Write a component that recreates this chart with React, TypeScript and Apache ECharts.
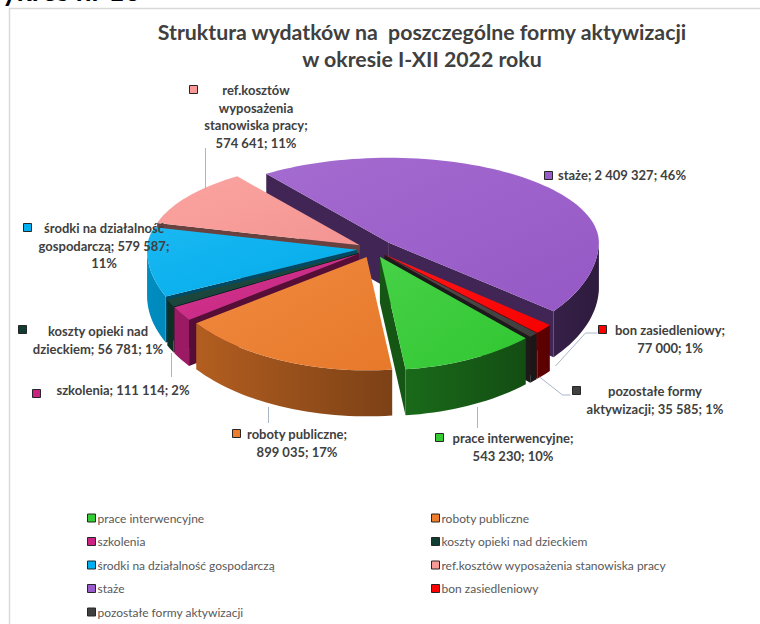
import React, { useEffect, useRef } from 'react';
import * as echarts from 'echarts';

// ---------- data ----------
const categories = [
  'prace interwencyjne',
  'roboty publiczne',
  'szkolenia',
  'koszty opieki nad dzieckiem',
  'środki na działalność gospodarczą',
  'ref.kosztów wyposażenia stanowiska pracy',
  'staże',
  'bon zasiedleniowy',
  'pozostałe formy aktywizacji',
];
const amounts = [543230, 899035, 111114, 56781, 579587, 574641, 2409327, 77000, 35585];
const titleLines = ['Struktura wydatków na  poszczególne formy aktywizacji', 'w okresie I-XII 2022 roku'];
const pageCaption = 'Wykres nr 10';
// words per label line
const labelWords = [[2, 2], [2, 2], [3], [3, 3], [3, 2, 1], [1, 1, 2, 2], [3], [2, 2], [2, 3]];

// ---------- style / layout ----------
const sliceColors = ['#33CC33', '#EE7D2B', '#CC2283', '#0F3D31', '#00B0F0', '#FA9A97', '#9A5BCB', '#FF0000', '#404040'];
const CX = 373, CY = 249, RX = 210, KF = 0.54, KB = 0.405, DEPTH = 46, START_ANGLE = 46;
const explode = [16, 16, 16, 16, 16, 16, 22, 16, 16];
const LABEL_FONT = 'Lato, "Open Sans", sans-serif';
const TEXT_COLOR = '#404040';
const labelLayout = [
  { cx: 513, y: 438, mx: 435, my: 437 },
  { cx: 297, y: 434, mx: 232, my: 433 },
  { cx: 123, y: 390, mx: 32, my: 393 },
  { cx: 98, y: 331, mx: 18, my: 329 },
  { cx: 104, y: 228, mx: 23, my: 227 },
  { cx: 256, y: 90, mx: 189, my: 89 },
  { cx: 622, y: 175, mx: 544, my: 175 },
  { cx: 670, y: 330, mx: 598, my: 329 },
  { cx: 655, y: 391, mx: 572, my: 390 },
];
const LINE_H = 17.5;
const leaderLines = [
  [[205, 148], [205, 190]],
  [[171, 353], [171, 377]],
  [[268, 407], [268, 423]],
  [[477, 407], [477, 428]],
  [[539, 377], [562, 395], [570, 395]],
  [[555, 366], [585, 333], [597, 333]],
];

const D2R = Math.PI / 180;

function shade(hex: string, f: number) {
  const n = parseInt(hex.slice(1), 16);
  const r = Math.round(((n >> 16) & 255) * f);
  const g = Math.round(((n >> 8) & 255) * f);
  const b = Math.round((n & 255) * f);
  return `rgb(${Math.min(255, r)},${Math.min(255, g)},${Math.min(255, b)})`;
}

function tint(hex: string, f: number) {
  const n = parseInt(hex.slice(1), 16);
  const mix = (c: number) => Math.round(c + (255 - c) * f);
  return `rgb(${mix((n >> 16) & 255)},${mix((n >> 8) & 255)},${mix(n & 255)})`;
}

function proj(u: number, v: number, h: number) {
  return [CX + u, CY + (v > 0 ? v * KF : v * KB) + h];
}

function fmtNum(n: number) {
  return String(n).replace(/\B(?=(\d{3})+(?!\d))/g, '\u00a0');
}

function buildSlices() {
  const total = amounts.reduce((a, b) => a + b, 0);
  let acc = START_ANGLE;
  return amounts.map((val, i) => {
    const a1 = acc;
    const a2 = acc + (val / total) * 360;
    acc = a2;
    const m = ((a1 + a2) / 2) * D2R;
    const ex = explode[i] * Math.cos(m);
    const ey = explode[i] * Math.sin(m);
    const rim = (deg: number, h: number) =>
      proj(ex + RX * Math.cos(deg * D2R), ey + RX * Math.sin(deg * D2R), h);
    const apex = (h: number) => proj(ex, ey, h);
    const arc = (s: number, t: number, h: number) => {
      const n = Math.max(2, Math.ceil(Math.abs(t - s) / 2));
      const pts: number[][] = [];
      for (let k = 0; k <= n; k++) pts.push(rim(s + ((t - s) * k) / n, h));
      return pts;
    };
    const c = sliceColors[i];
    const els: any[] = [];
    const vAt = (deg: number, frac: number) => ey + RX * frac * Math.sin(deg * D2R);
    // radial faces
    if (Math.cos(a1 * D2R) < 0) {
      els.push({
        type: 'polygon',
        shape: { points: [apex(0), rim(a1, 0), rim(a1, DEPTH), apex(DEPTH)] },
        style: { fill: shade(c, 0.42) },
        z2: 1000 + Math.round(vAt(a1, 0.5)),
      });
    }
    if (Math.cos(a2 * D2R) > 0) {
      els.push({
        type: 'polygon',
        shape: { points: [apex(0), rim(a2, 0), rim(a2, DEPTH), apex(DEPTH)] },
        style: { fill: shade(c, 0.42) },
        z2: 1000 + Math.round(vAt(a2, 0.5)),
      });
    }
    // outer wall (front half only)
    for (const [lo, hi] of [[0, 180], [360, 540]]) {
      const s = Math.max(a1, lo);
      const t = Math.min(a2, hi);
      if (t - s > 0.01) {
        const top = arc(s, t, 0);
        const bot = arc(t, s, DEPTH);
        const fL = 0.55 - 0.25 * Math.cos(t * D2R);
        const fR = 0.55 - 0.25 * Math.cos(s * D2R);
        els.push({
          type: 'polygon',
          shape: { points: top.concat(bot) },
          style: {
            fill: new echarts.graphic.LinearGradient(0, 0, 1, 0, [
              { offset: 0, color: shade(c, fL) },
              { offset: 1, color: shade(c, fR) },
            ]),
          },
          z2: 1000 + Math.round(vAt((s + t) / 2, 1)),
        });
      }
    }
    // top face
    els.push({
      type: 'polygon',
      shape: { points: [apex(0)].concat(arc(a1, a2, 0)) },
      style: {
        fill: new echarts.graphic.LinearGradient(0, 0, 1, 1, [
          { offset: 0, color: tint(c, 0.1) },
          { offset: 1, color: shade(c, 0.97) },
        ]),
      },
      z2: 3000,
    });
    return els;
  });
}

function buildLabels() {
  const total = amounts.reduce((a, b) => a + b, 0);
  const out: any[] = [];
  amounts.forEach((val, i) => {
    const pct = Math.round((val / total) * 100);
    const words = `${categories[i]}; ${fmtNum(val)}; ${pct}%`.split(' ');
    const lines: string[] = [];
    let k = 0;
    labelWords[i].forEach((cnt) => {
      lines.push(words.slice(k, k + cnt).join(' '));
      k += cnt;
    });
    const L = labelLayout[i];
    out.push({
      type: 'rect',
      shape: { x: L.mx + 0.5, y: L.my - 4 + 0.5, width: 8, height: 8 },
      style: { fill: sliceColors[i], stroke: '#262626', lineWidth: 1 },
      z: 10,
    });
    out.push({
      type: 'text',
      x: L.cx,
      y: L.y - LINE_H / 2,
      style: {
        text: lines.join('\n'),
        fill: TEXT_COLOR,
        fontFamily: LABEL_FONT,
        fontWeight: 'bold',
        fontSize: 13,
        lineHeight: LINE_H,
        align: 'center',
        verticalAlign: 'top',
      },
      z: 10,
    });
  });
  leaderLines.forEach((pts) => {
    out.push({
      type: 'polyline',
      shape: { points: pts.map((p) => [p[0] + 0.5, p[1]]) },
      style: { stroke: '#A9B6C8', lineWidth: 1, fill: 'none' },
      z: 9,
    });
  });
  return out;
}

export default function App() {
  const ref = useRef<HTMLDivElement>(null);
  useEffect(() => {
    if (!ref.current) return;
    const chart = echarts.init(ref.current, undefined, { renderer: 'svg' });
    const slices = buildSlices();
    const leftNames = categories.filter((_, i) => i % 2 === 0);
    const rightNames = categories.filter((_, i) => i % 2 === 1);
    const legendCommon = {
      orient: 'vertical' as const,
      top: 511,
      padding: 0,
      itemWidth: 8,
      itemHeight: 8,
      itemGap: 9.5,
      icon: 'rect',
      itemStyle: { borderColor: '#262626', borderWidth: 1 },
      textStyle: { fontFamily: LABEL_FONT, fontSize: 12, color: '#595959', lineHeight: 14, padding: [0, 0, 0, -3] },
      selectedMode: false,
    };
    chart.setOption({
      animation: false,
      backgroundColor: '#ffffff',
      title: {
        text: titleLines.join('\n'),
        left: 417,
        top: 13,
        textAlign: 'center',
        textStyle: {
          fontFamily: LABEL_FONT,
          fontWeight: 'bold',
          fontSize: 21.3,
          lineHeight: 27,
          color: TEXT_COLOR,
        },
      },
      legend: [
        { ...legendCommon, left: 87, data: leftNames },
        { ...legendCommon, left: 431, data: rightNames },
      ],
      graphic: [
        {
          type: 'rect',
          shape: { x: 9.5, y: 8.5, width: 800, height: 700 },
          style: { fill: 'none', stroke: '#D9D9D9', lineWidth: 1.5 },
          z: 0,
        },
        {
          type: 'text',
          x: -27,
          y: 4,
          style: {
            text: pageCaption,
            fill: '#000000',
            fontFamily: LABEL_FONT,
            fontWeight: 'bold',
            fontSize: 28,
            align: 'left',
            verticalAlign: 'bottom',
          },
        },
        ...buildLabels(),
      ],
      series: [
        {
          type: 'custom',
          name: 'wydatki',
          coordinateSystem: 'none',
          silent: true,
          data: amounts.map((v, i) => ({ value: v, name: categories[i] })),
          renderItem: (params: any) => ({
            type: 'group',
            children: slices[params.dataIndex],
          }),
        },
        {
          type: 'pie',
          name: 'legenda',
          radius: 0,
          center: [-100, -100],
          silent: true,
          label: { show: false },
          labelLine: { show: false },
          data: amounts.map((v, i) => ({
            value: v,
            name: categories[i],
            itemStyle: { color: sliceColors[i] },
          })),
        },
      ],
    });
    return () => chart.dispose();
  }, []);
  return (
    <div
      ref={ref}
      style={{ position: 'fixed', left: 0, top: 0, width: 760, height: 624 }}
    />
  );
}
